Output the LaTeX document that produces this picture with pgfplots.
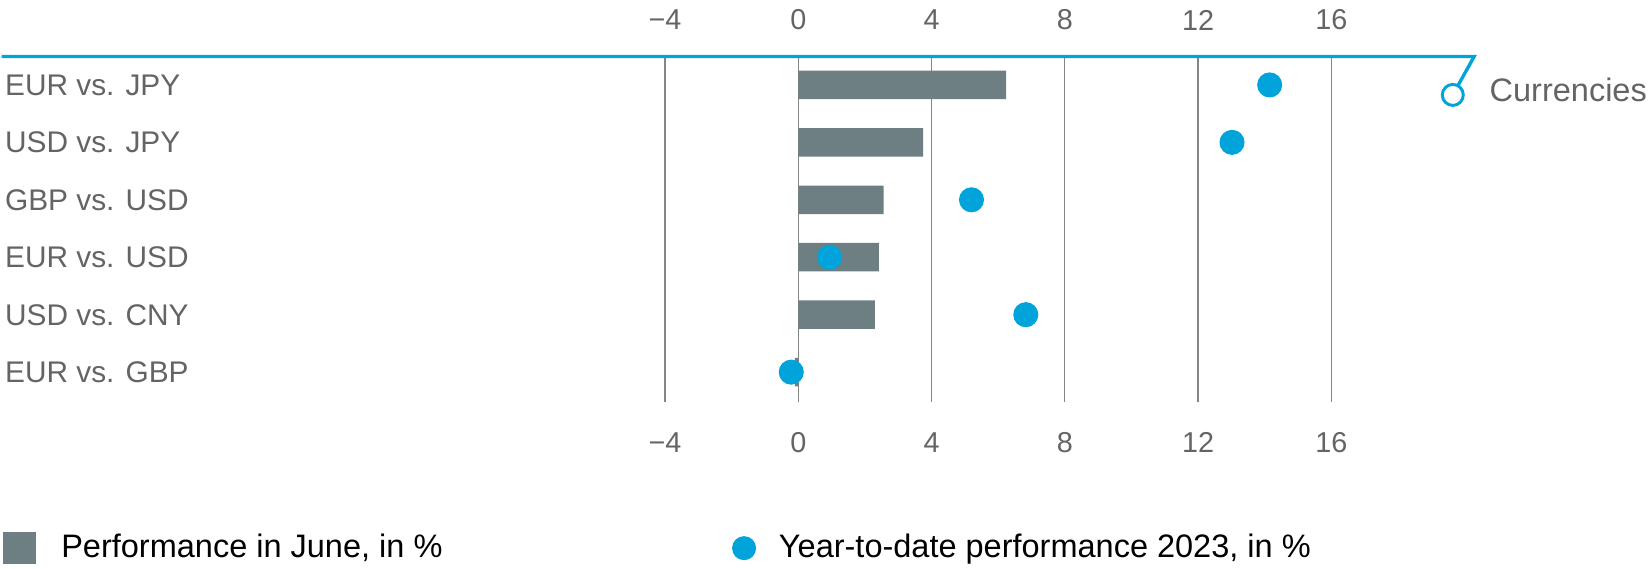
\documentclass[border=0pt]{standalone}
\usepackage{fontspec}
\setmainfont{Liberation Sans}
\usepackage{pgfplots}
\pgfplotsset{compat=1.18}
\definecolor{barcol}{HTML}{6D7F83}
\definecolor{dotcol}{HTML}{00A3DA}
\definecolor{txt}{HTML}{646464}
\definecolor{gridc}{HTML}{858585}

\begin{document}
\begin{tikzpicture}
% picture frame in pixel units (1px = 0.375pt, y downwards)
\begin{scope}[x=0.375pt,y=-0.375pt]
\useasboundingbox (0,0) rectangle (1649,569);
\end{scope}

\begin{axis}[
    at={(249pt,-21.75pt)}, anchor=north west,
    scale only axis, width=250.125pt, height=129pt,
    xmin=-4, xmax=16, ymin=-0.513, ymax=5.4696,
    axis line style={draw=none}, tick style={draw=none},
    xtick={-4,0,4,8,12,16},
    xticklabels={−4,0,4,8,12,16},
    xticklabel style={anchor=center, yshift=-15.4pt, inner sep=0pt,
        font=\fontsize{10.8}{12}\selectfont, text=txt},
    xmajorgrids, grid style={gridc, line width=0.5pt},
    ytick={0,...,5},
    yticklabels={EUR vs. GBP, USD vs. CNY, EUR vs. USD, GBP vs. USD, USD vs. JPY, EUR vs. JPY},
    yticklabel style={anchor=west, xshift=-247.9pt, inner sep=0pt, text depth=0pt,
        font=\fontsize{11.2}{13}\selectfont, text=txt},
    clip=false,
    legend columns=2,
    legend style={at={(-0.99295,-0.4738)}, anchor=south west, draw=none, fill=none,
        inner sep=0pt, outer sep=0pt,
        nodes={inner sep=0pt, text depth=0.15em, font=\fontsize{12.2}{14}\selectfont, text=black}},
]
\addplot[xbar, bar width=10.7pt, fill=barcol, draw=none,
    legend image code/.code={\path[draw=none, fill=none] (0pt,0pt) -- (21.75pt,0pt);
        \fill[barcol] (0pt,-6.1pt) rectangle (12.2pt,6.1pt);}]
    coordinates {(-0.10,0) (2.30,1) (2.42,2) (2.56,3) (3.75,4) (6.24,5)};
\addlegendentry{\makebox[251.8pt][l]{Performance in June, in \%}}

\addplot[only marks, mark=*, mark size=4.5pt, color=dotcol,
    legend image code/.code={\path[draw=none, fill=none] (0pt,0pt) -- (17.4pt,0pt);
        \fill[dotcol] (4.3pt,0pt) circle (4.3pt);}]
    coordinates {(-0.21,0) (6.83,1) (0.94,2) (5.20,3) (13.02,4) (14.15,5)};
\addlegendentry{Year-to-date performance 2023, in \%}
\end{axis}

% upper tick labels
\begin{axis}[
    at={(249pt,-21.75pt)}, anchor=north west,
    scale only axis, width=250.125pt, height=129pt,
    xmin=-4, xmax=16, ymin=0, ymax=1,
    axis line style={draw=none}, tick style={draw=none},
    xtick={-4,0,4,8,12,16},
    xticklabels={−4,0,4,8,12,16},
    xticklabel pos=upper,
    xticklabel style={anchor=center, yshift=14.25pt, inner sep=0pt,
        font=\fontsize{10.8}{12}\selectfont, text=txt},
    ytick=\empty,
]
\end{axis}

\begin{scope}[x=0.375pt,y=-0.375pt]
\draw[dotcol, line width=1.25pt] (0,56.5) -- (1474,56.5) -- (1457.7,85.8);
\draw[dotcol, line width=1.1pt, fill=white] (1452.6,95) circle (3.94pt);
\node[anchor=base west, inner sep=0pt, text=txt, font=\fontsize{12.2}{14}\selectfont]
    at (1489,101.7) {Currencies};
\end{scope}
\end{tikzpicture}
\end{document}
